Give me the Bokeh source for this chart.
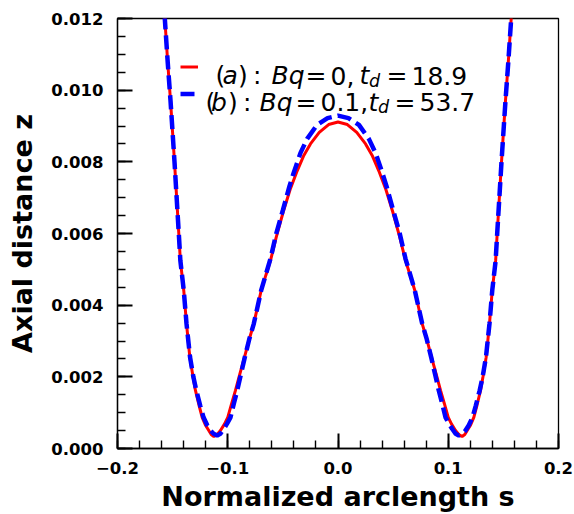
import numpy as np
from bokeh.plotting import figure
from bokeh.models import (Label, FixedTicker, CustomJSTickFormatter, Range1d,
                          Legend, LegendItem, ColumnDataSource)
from bokeh.embed import file_html
from bokeh.resources import INLINE

# ---------------- data ----------------
s_a = [-0.1590, -0.1571, -0.1545, -0.1519, -0.1483, -0.1444, -0.1430, -0.1399, -0.1374,
       -0.1344, -0.1315, -0.1293, -0.1260, -0.1232, -0.1200, -0.1172, -0.1150, -0.1126,
       -0.1100, -0.1066, -0.1030, -0.1000, -0.0965, -0.0930, -0.0890, -0.0848, -0.0805,
       -0.0764, -0.0730, -0.0697, -0.0655, -0.0612, -0.0560, -0.0497, -0.0435, -0.0370,
       -0.0310, -0.0250, -0.0170, -0.0085, 0.0,
       0.0085, 0.0170, 0.0250, 0.0310, 0.0370, 0.0435, 0.0497, 0.0560, 0.0612, 0.0655,
       0.0697, 0.0730, 0.0764, 0.0805, 0.0848, 0.0890, 0.0930, 0.0965, 0.1000, 0.1030,
       0.1066, 0.1100, 0.1126, 0.1150, 0.1172, 0.1200, 0.1232, 0.1260, 0.1293, 0.1315,
       0.1344, 0.1374, 0.1399, 0.1430, 0.1444, 0.1483, 0.1519, 0.1545, 0.1571, 0.1590]
z_a = [0.0132, 0.0120, 0.0108, 0.0097, 0.0080, 0.0060, 0.00525, 0.00441, 0.00348,
       0.00255, 0.00200, 0.00162, 0.00120, 0.00087, 0.00064, 0.00050, 0.00039, 0.000335,
       0.00038, 0.00050, 0.00068, 0.00087, 0.00125, 0.00162, 0.00208, 0.00255, 0.00305,
       0.00348, 0.00395, 0.00441, 0.00483, 0.00525, 0.00590, 0.00660, 0.00722, 0.00775,
       0.00818, 0.00850, 0.00882, 0.00904, 0.00911,
       0.00904, 0.00882, 0.00850, 0.00818, 0.00775, 0.00722, 0.00660, 0.00590, 0.00525,
       0.00483, 0.00441, 0.00395, 0.00348, 0.00305, 0.00255, 0.00208, 0.00162, 0.00125,
       0.00087, 0.00068, 0.00050, 0.00038, 0.000335, 0.00039, 0.00050, 0.00064, 0.00087,
       0.00120, 0.00162, 0.00200, 0.00255, 0.00348, 0.00441, 0.00525, 0.0060, 0.0080,
       0.0097, 0.0108, 0.0120, 0.0132]

s_b = [-0.1590, -0.1571, -0.1545, -0.1519, -0.1483, -0.1444, -0.1430, -0.1399, -0.1374,
       -0.1342, -0.1312, -0.1285, -0.1250, -0.1220, -0.1185, -0.1156, -0.1128, -0.1096,
       -0.1068, -0.1035, -0.1005, -0.0975, -0.0945, -0.0914, -0.0880, -0.0845, -0.0805,
       -0.0764, -0.0730, -0.0697, -0.0655, -0.0612, -0.0560, -0.0500, -0.0440, -0.0400,
       -0.0340, -0.0280, -0.0190, -0.0095, 0.0,
       0.0095, 0.0190, 0.0280, 0.0340, 0.0400, 0.0440, 0.0500, 0.0560, 0.0612, 0.0655,
       0.0697, 0.0730, 0.0764, 0.0805, 0.0845, 0.0880, 0.0914, 0.0945, 0.0975, 0.1005,
       0.1035, 0.1068, 0.1096, 0.1128, 0.1156, 0.1185, 0.1220, 0.1250, 0.1285, 0.1312,
       0.1342, 0.1374, 0.1399, 0.1430, 0.1444, 0.1483, 0.1519, 0.1545, 0.1571, 0.1590]
z_b = [0.0132, 0.0120, 0.0108, 0.0097, 0.0080, 0.0060, 0.00525, 0.00441, 0.00348,
       0.00255, 0.00200, 0.00162, 0.00120, 0.00087, 0.00064, 0.00050, 0.00041, 0.00036,
       0.00041, 0.00055, 0.00070, 0.00087, 0.00125, 0.00162, 0.00208, 0.00255, 0.00305,
       0.00348, 0.00395, 0.00441, 0.00485, 0.00530, 0.00600, 0.00665, 0.00732, 0.00771,
       0.00825, 0.00864, 0.00903, 0.00922, 0.00929,
       0.00922, 0.00903, 0.00864, 0.00825, 0.00771, 0.00732, 0.00665, 0.00600, 0.00530,
       0.00485, 0.00441, 0.00395, 0.00348, 0.00305, 0.00255, 0.00208, 0.00162, 0.00125,
       0.00087, 0.00070, 0.00055, 0.00041, 0.00036, 0.00041, 0.00050, 0.00064, 0.00087,
       0.00120, 0.00162, 0.00200, 0.00255, 0.00348, 0.00441, 0.00525, 0.0060, 0.0080,
       0.0097, 0.0108, 0.0120, 0.0132]

x_major = [-0.2, -0.1, 0.0, 0.1, 0.2]
y_major = [0.000, 0.002, 0.004, 0.006, 0.008, 0.010, 0.012]
x_minor = [round(v, 3) for v in np.linspace(-0.2, 0.2, 21)]
y_minor = [round(v, 5) for v in np.linspace(0.0, 0.012, 25)]

x_title = "Normalized arclength s"
y_title = "Axial distance z"

# ---------------- figure ----------------
FL, FT, FR, FB = 117, 18, 16, 66   # borders (px)
W, H = 574, 514

p = figure(width=W, height=H, output_backend="svg", toolbar_location=None,
           x_range=Range1d(-0.2, 0.2), y_range=Range1d(0.0, 0.012),
           min_border_left=FL, min_border_right=FR, min_border_top=FT,
           min_border_bottom=FB)
p.background_fill_color = "white"
p.border_fill_color = "white"
p.grid.visible = False
p.outline_line_color = "black"
p.outline_line_width = 1.3

for ax, major, minor, fmt in ((p.xaxis[0], x_major, x_minor,
                               "return tick.toFixed(1).replace('-', '\u2212');"),
                              (p.yaxis[0], y_major, y_minor,
                               "return tick.toFixed(3);")):
    ax.ticker = FixedTicker(ticks=major, minor_ticks=minor)
    ax.formatter = CustomJSTickFormatter(code=fmt)
    ax.axis_line_color = "black"
    ax.axis_line_width = 1.3
    ax.major_tick_in = 15
    ax.major_tick_out = 0
    ax.minor_tick_in = 8
    ax.minor_tick_out = 0
    ax.major_tick_line_width = 2
    ax.minor_tick_line_width = 1.4
    ax.major_label_text_font = "DejaVu Sans"
    ax.major_label_text_font_style = "bold"
    ax.major_label_text_font_size = "16.5px"
    ax.major_label_text_color = "black"
    ax.axis_label_text_font = "DejaVu Sans"
    ax.axis_label_text_font_style = "bold"
    ax.axis_label_text_font_size = "27px"
    ax.axis_label_text_color = "black"
p.xaxis[0].major_label_standoff = 13
p.yaxis[0].major_label_standoff = 14
p.xaxis[0].axis_label = x_title
p.yaxis[0].axis_label = y_title
p.xaxis[0].axis_label_standoff = 4
p.yaxis[0].axis_label_standoff = 10

src_a = ColumnDataSource(dict(s=s_a, z=z_a))
src_b = ColumnDataSource(dict(s=s_b, z=z_b))
ra = p.line("s", "z", source=src_a, line_color="#ff0000", line_width=3)
rb = p.line("s", "z", source=src_b, line_color="#0000ff", line_width=4.5,
            line_dash="14 6")

# legend handles (texts drawn below as mixed-style labels)
leg = Legend(items=[LegendItem(label=" ", renderers=[ra]),
                    LegendItem(label=" ", renderers=[rb])],
             glyph_width=18, glyph_height=27, label_height=27, label_width=1,
             label_standoff=0, spacing=0, padding=0, margin=0,
             border_line_alpha=0, background_fill_alpha=0)
leg.location = (180 - FL, (H - FB) - (53 + 54))
p.add_layout(leg)


def put(txt, X, Y, size, style="normal", angle=0.0, font="DejaVu Sans"):
    """place text at absolute page pixel (X, Y) = left end of baseline"""
    p.add_layout(Label(x=X - FL, y=(H - FB) - Y, x_units="screen", y_units="screen",
                       text=txt, text_font=font, text_font_size=f"{size}px",
                       text_font_style=style, text_color="black",
                       text_align="left", text_baseline="alphabetic", angle=angle))


# legend texts
LS, SS = 25, 17.5
line1 = [("(", 215, 0, "normal", LS), ("a", 222, 0, "italic", LS), (")", 237.5, 0, "normal", LS),
         (":", 252.5, 0, "normal", LS), ("Bq", 271, 0, "italic", LS), ("=", 305, 0, "normal", LS),
         ("0,", 330, 0, "normal", LS), ("t", 359, 0, "italic", LS), ("d", 368.5, 5, "italic", SS),
         ("=", 386, 0, "normal", LS), ("18.9", 411, 0, "normal", LS)]
line2 = [("(", 205, 0, "normal", LS), ("b", 210.5, 0, "italic", LS), (")", 227.5, 0, "normal", LS),
         (":", 242.5, 0, "normal", LS), ("Bq", 259, 0, "italic", LS), ("=", 295, 0, "normal", LS),
         ("0.1,", 320, 0, "normal", LS), ("t", 368, 0, "italic", LS), ("d", 377.5, 5, "italic", SS),
         ("=", 394, 0, "normal", LS), ("53.7", 419, 0, "normal", LS)]
for items, base in ((line1, 75), (line2, 101.5)):
    for txt, X, dy, style, size in items:
        put(txt, X, base + dy, size, style)

open("out.html", "w").write(file_html(p, INLINE))
